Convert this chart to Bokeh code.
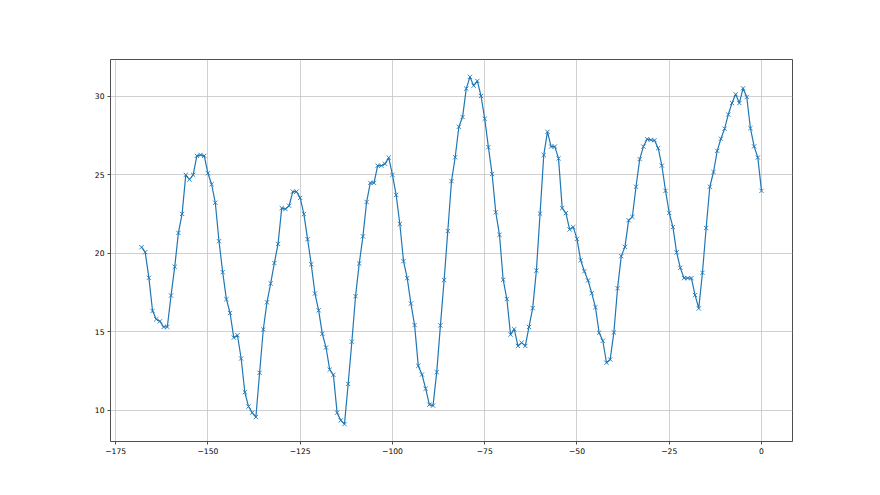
from bokeh.plotting import figure
from bokeh.models import Range1d, FixedTicker, ColumnDataSource
from bokeh.embed import file_html
from bokeh.resources import INLINE

# hours relative to now
hours = list(range(-168, 1))
temps = [
    20.39, 20.07, 18.44, 16.33, 15.8, 15.67, 15.31, 15.31, 17.31, 19.14,
    21.3, 22.51, 25.0, 24.7, 25.0, 26.21, 26.27, 26.21, 25.1, 24.4,
    23.22, 20.77, 18.8, 17.08, 16.2, 14.63, 14.78, 13.3, 11.15, 10.24,
    9.85, 9.57, 12.39, 15.15, 16.88, 18.08, 19.38, 20.6, 22.88, 22.82,
    23.03, 23.93, 23.93, 23.53, 22.5, 20.9, 19.3, 17.44, 16.37, 14.87,
    14.0, 12.59, 12.26, 9.85, 9.36, 9.12, 11.68, 14.37, 17.27, 19.35,
    21.08, 23.27, 24.49, 24.49, 25.58, 25.58, 25.7, 26.1, 25.0, 23.72,
    21.87, 19.5, 18.42, 16.8, 15.43, 12.83, 12.28, 11.38, 10.36, 10.3,
    12.43, 15.41, 18.3, 21.42, 24.6, 26.12, 28.06, 28.68, 30.49, 31.24,
    30.68, 30.98, 30.02, 28.57, 26.76, 25.05, 22.61, 21.18, 18.32, 17.09,
    14.82, 15.17, 14.1, 14.31, 14.1, 15.31, 16.51, 18.9, 22.53, 26.26,
    27.74, 26.8, 26.8, 26.05, 22.88, 22.56, 21.52, 21.67, 20.92, 19.56,
    18.86, 18.27, 17.46, 16.57, 14.94, 14.43, 13.03, 13.24, 14.96, 17.78,
    19.82, 20.41, 22.11, 22.32, 24.24, 26.0, 26.8, 27.27, 27.23, 27.2,
    26.7, 25.59, 23.98, 22.57, 21.67, 20.06, 19.08, 18.42, 18.42, 18.42,
    17.34, 16.49, 18.76, 21.61, 24.24, 25.18, 26.53, 27.3, 27.94, 28.84,
    29.57, 30.13, 29.57, 30.51, 29.96, 27.97, 26.81, 26.1, 23.98,
]
x_ticks = [-175, -150, -125, -100, -75, -50, -25, 0]
y_ticks = [10, 15, 20, 25, 30]

src = ColumnDataSource(dict(x=hours, y=temps))

xpad = 0.05 * (max(hours) - min(hours))
ypad = 0.05 * (max(temps) - min(temps))

p = figure(width=872, height=487, output_backend="svg", toolbar_location=None,
           x_range=Range1d(min(hours) - xpad, max(hours) + xpad),
           y_range=Range1d(min(temps) - ypad, max(temps) + ypad),
           min_border_left=110, min_border_right=80,
           min_border_top=59, min_border_bottom=46)
p.background_fill_color = "white"
p.border_fill_color = "white"
p.outline_line_color = "#222222"
p.outline_line_width = 0.8

p.line("x", "y", source=src, line_color="#1f77b4", line_width=1.2)
p.scatter("x", "y", source=src, marker="x", size=6, line_color="#1f77b4", line_width=0.9)

p.xaxis.ticker = FixedTicker(ticks=x_ticks)
p.yaxis.ticker = FixedTicker(ticks=y_ticks)
p.xaxis.major_label_overrides = {t: str(t).replace("-", "\u2212") for t in x_ticks}
p.yaxis.major_label_overrides = {t: str(t) for t in y_ticks}

for ax in (p.xaxis, p.yaxis):
    ax.axis_line_color = None
    ax.minor_tick_line_color = None
    ax.major_tick_in = 0
    ax.major_tick_out = 3
    ax.major_tick_line_color = "#222222"
    ax.major_tick_line_width = 0.8
    ax.major_label_text_font = "DejaVu Sans"
    ax.major_label_text_font_size = "7.6px"
    ax.major_label_text_color = "black"
    ax.major_label_standoff = 3

for g in (p.xgrid, p.ygrid):
    g.grid_line_color = "#c4c4c4"
    g.grid_line_width = 0.8

open("out.html", "w").write(file_html(p, INLINE))
